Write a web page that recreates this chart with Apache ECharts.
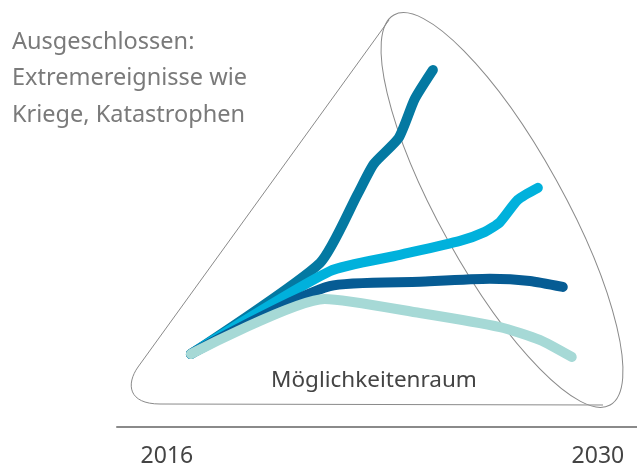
<!DOCTYPE html>
<html>
<head>
<meta charset="utf-8">
<script src="https://cdn.jsdelivr.net/npm/echarts@6/dist/echarts.min.js"></script>
<style>
  html, body { margin: 0; padding: 0; background: #fff; }
  #chart { width: 637px; height: 468px; }
</style>
</head>
<body>
<div id="chart"></div>
<script>
// Jahre auf der Achse
var axisYears = [2016, 2030];

// Szenarien: [Jahr, Index]
var pfadSteil = [[2016.78, 17.1], [2020.97, 38.4], [2022.20, 54.6], [2022.72, 61.6], [2023.53, 67.7], [2024.05, 76.8], [2024.64, 83.6]];
var pfadHell  = [[2016.78, 17.1], [2021.29, 36.5], [2023.57, 40.3], [2025.52, 43.6], [2026.33, 45.7], [2026.82, 48.0], [2027.40, 53.2], [2028.05, 56.0]];
var pfadDunkel = [[2016.78, 17.1], [2021.29, 33.0], [2024.22, 34.0], [2026.49, 34.7], [2027.79, 34.2], [2028.86, 32.8]];
var pfadFlach = [[2016.78, 17.1], [2021.13, 30.0], [2024.22, 26.7], [2026.82, 23.4], [2028.11, 20.4], [2029.15, 16.4]];

var farben = ['#0479a2', '#00b1dc', '#065c94', '#a6d9d6'];

var chart = echarts.init(document.getElementById('chart'));

function linie(daten, farbe) {
    return {
        type: 'line',
        data: daten,
        symbol: 'none',
        smooth: 0.2,
        lineStyle: { color: farbe, width: 10, cap: 'round', join: 'round' },
        silent: true
    };
}

var rahmen = { fill: null, stroke: '#8a8a8a', lineWidth: 1 };

var option = {
    animation: false,
    backgroundColor: '#fff',
    grid: { left: 117, right: 0, top: 0, bottom: 41 },
    xAxis: {
        type: 'value',
        min: 2014.38,
        max: 2031.27,
        splitLine: { show: false },
        axisTick: { show: false },
        axisLine: { show: true, lineStyle: { color: '#8a8a8a', width: 2 } },
        axisLabel: {
            customValues: axisYears,
            color: '#444',
            fontSize: 23,
            fontFamily: 'Noto Sans',
            margin: 18,
            formatter: function (v) { return String(v); }
        }
    },
    yAxis: {
        type: 'value',
        min: 0,
        max: 100,
        show: false
    },
    graphic: [
        //Ellipse (Zukunftsraum)
        {
            type: 'ellipse',
            x: 502, y: 210,
            rotation: -61 * Math.PI / 180,
            shape: { cx: 0, cy: 0, rx: 223, ry: 62 },
            style: rahmen,
            z: 1
        },
        //Dreieck links + Boden
        {
            type: 'polyline',
            shape: { points: [[389, 20], [138, 367]] },
            style: rahmen,
            z: 1
        },
        {
            type: 'bezierCurve',
            shape: { x1: 138, y1: 367, cpx1: 126, cpy1: 384, cpx2: 128, cpy2: 404, x2: 160, y2: 404 },
            style: rahmen,
            z: 1
        },
        {
            type: 'polyline',
            shape: { points: [[160, 404], [603, 405]] },
            style: rahmen,
            z: 1
        },
        {
            type: 'text',
            left: 12, top: 24,
            style: {
                text: 'Ausgeschlossen:\nExtremereignisse wie\nKriege, Katastrophen',
                fill: '#7a7a7a',
                font: '23.5px "Noto Sans"',
                lineHeight: 36.5
            },
            z: 5
        },
        {
            type: 'text',
            x: 374, y: 381,
            style: {
                text: 'Möglichkeitenraum',
                fill: '#444',
                font: '22.5px "Noto Sans"',
                align: 'center',
                verticalAlign: 'middle'
            },
            z: 5
        }
    ],
    series: [
        linie(pfadSteil, farben[0]),
        linie(pfadHell, farben[1]),
        linie(pfadDunkel, farben[2]),
        linie(pfadFlach, farben[3])
    ]
};

chart.setOption(option);
</script>
</body>
</html>
